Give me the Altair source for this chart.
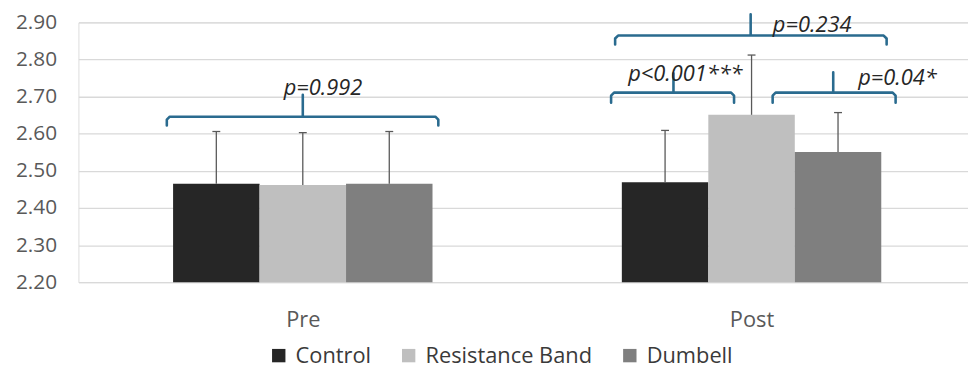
import altair as alt
import pandas as pd

# ---- data ----
phases = ["Pre", "Post"]
groups = ["Control", "Resistance Band", "Dumbell"]
colors = ["#262626", "#bfbfbf", "#7f7f7f"]
mean_pre = [2.465, 2.462, 2.465]
mean_post = [2.469, 2.651, 2.551]
sd_pre = [0.141, 0.141, 0.141]
sd_post = [0.140, 0.161, 0.106]
y_ticks = [2.20, 2.30, 2.40, 2.50, 2.60, 2.70, 2.80, 2.90]

bracket_labels = ["p=0.992", "p=0.234", "p<0.001***", "p=0.04*"]
bracket_left = [0.197, 1.196, 1.187, 1.547]
bracket_right = [0.802, 1.801, 1.461, 1.821]
bracket_mid = [0.500, 1.498, 1.326, 1.682]
bracket_level = [2.646, 2.8645, 2.7107, 2.7107]
bracket_foot = [2.622, 2.8406, 2.6834, 2.6834]
bracket_tip = [2.705, 2.922, 2.763, 2.7656]
label_x = [0.545, 1.635, 1.3525, 1.825]
label_y = [2.7046, 2.8735, 2.7417, 2.731]

# ---- layout constants ----
PLOT_W = 897
PLOT_H = 262
X_MAX = PLOT_W / 452.5
BAR_W = 0.1927
CAP = 0.0088
DX = 0.0066
DY = 0.008
FONT = "Open Sans"

rows = []
for pi, (ph, means, sds) in enumerate([("Pre", mean_pre, sd_pre), ("Post", mean_post, sd_post)]):
    for gi, g in enumerate(groups):
        xc = pi + 0.5 + (gi - 1) * BAR_W
        rows.append(dict(phase=ph, group=g, mean=means[gi], upper=means[gi] + sds[gi],
                         base=y_ticks[0], xc=xc, x1=xc - BAR_W / 2, x2=xc + BAR_W / 2,
                         c1=xc - CAP, c2=xc + CAP))
bars_df = pd.DataFrame(rows)

pts = []
for i in range(len(bracket_labels)):
    L, R, M = bracket_left[i], bracket_right[i], bracket_mid[i]
    yl, yf, yt = bracket_level[i], bracket_foot[i], bracket_tip[i]
    seq = [(L, yf), (L, yl - DY), (L + DX, yl), (M, yl), (M, yt), (M, yl),
           (R - DX, yl), (R, yl - DY), (R, yf)]
    for k, (x, y) in enumerate(seq):
        pts.append(dict(b=i, k=k, x=x, y=y))
br_df = pd.DataFrame(pts)
lab_df = pd.DataFrame(dict(text=bracket_labels, x=label_x, y=label_y))

xs = alt.Scale(domain=[0, X_MAX], nice=False, zero=False)
ys = alt.Scale(domain=[y_ticks[0], y_ticks[-1]], nice=False, zero=False)

x_axis = alt.Axis(
    values=[0.5, 1.5], labelExpr="datum.value < 1 ? 'Pre' : 'Post'",
    grid=False, ticks=False, domain=False, title=None, labelOverlap=False,
    labelFont=FONT, labelFontSize=22, labelColor="#595959", labelPadding=28)
y_axis = alt.Axis(
    values=y_ticks, format=".2f", title=None, ticks=False, domain=False,
    grid=True, gridColor="#d9d9d9", gridWidth=1.3, labelOverlap=False,
    labelFont=FONT, labelFontSize=21, labelColor="#595959", labelPadding=22)

bars = alt.Chart(bars_df).mark_bar().encode(
    x=alt.X("x1:Q", scale=xs, axis=x_axis),
    x2="x2:Q",
    y=alt.Y("mean:Q", scale=ys, axis=y_axis),
    y2="base:Q",
    color=alt.Color("group:N", scale=alt.Scale(domain=groups, range=colors),
                    legend=alt.Legend(title=None, orient="none", direction="horizontal",
                                      legendX=191, legendY=325,
                                      symbolType="square", symbolSize=182,
                                      symbolStrokeWidth=0, labelFont=FONT,
                                      labelFontSize=22, labelColor="#3a3a3a",
                                      labelLimit=400, labelOffset=6, columnPadding=26)),
)

err = alt.Chart(bars_df).mark_rule(color="#595959", strokeWidth=1.3).encode(
    x=alt.X("xc:Q", scale=xs, axis=x_axis), y=alt.Y("mean:Q", scale=ys, axis=y_axis),
    y2="upper:Q")
caps = alt.Chart(bars_df).mark_rule(color="#595959", strokeWidth=1.3).encode(
    x=alt.X("c1:Q", scale=xs, axis=x_axis), x2="c2:Q",
    y=alt.Y("upper:Q", scale=ys, axis=y_axis))

brackets = alt.Chart(br_df).mark_line(color="#2a6b8f", strokeWidth=2.6,
                                      strokeJoin="round", strokeCap="round").encode(
    x=alt.X("x:Q", scale=xs, axis=x_axis), y=alt.Y("y:Q", scale=ys, axis=y_axis),
    detail="b:N", order="k:Q")

labels = alt.Chart(lab_df).mark_text(font=FONT, fontSize=22, fontStyle="italic",
                                     color="#262626", align="center",
                                     baseline="alphabetic").encode(
    x=alt.X("x:Q", scale=xs, axis=x_axis), y=alt.Y("y:Q", scale=ys, axis=y_axis),
    text="text:N")

chart = alt.layer(bars, err, caps, brackets, labels).properties(
    width=PLOT_W, height=PLOT_H,
    autosize=alt.AutoSizeParams(type="none"),
    padding={"left": 71, "top": 13, "right": 0, "bottom": 87},
).configure_view(stroke=None).configure(font=FONT).configure_axis(labelOverlap=False)

chart.save("out.html", embed_options={"renderer": "svg", "actions": False})
